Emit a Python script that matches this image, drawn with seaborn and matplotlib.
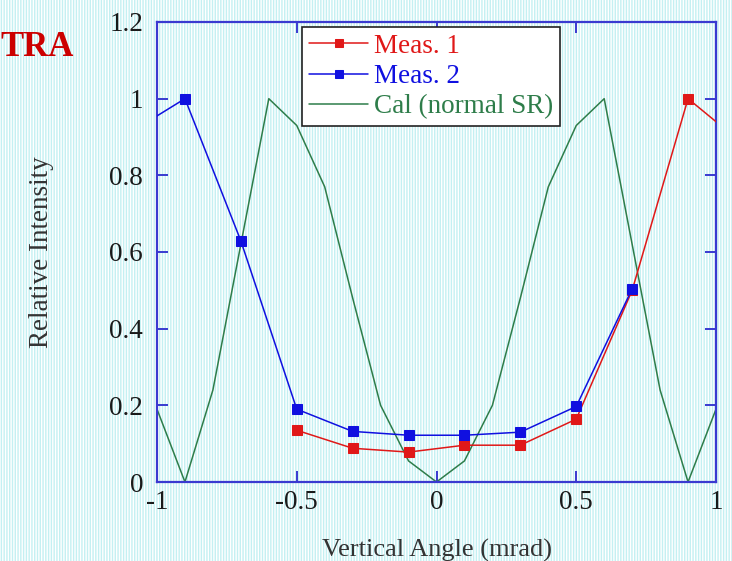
import numpy as np
import pandas as pd
import matplotlib
matplotlib.use("Agg")
import matplotlib.pyplot as plt
from matplotlib.patches import Rectangle
import seaborn as sns

# ---- data ----
meas1_x = [-0.5, -0.3, -0.1, 0.1, 0.3, 0.5, 0.7, 0.9, 1.1]
meas1_y = [0.135, 0.088, 0.078, 0.096, 0.096, 0.164, 0.50, 1.0, 0.88]
meas2_x = [-1.1, -0.9, -0.7, -0.5, -0.3, -0.1, 0.1, 0.3, 0.5, 0.7]
meas2_y = [0.91, 1.0, 0.629, 0.19, 0.132, 0.122, 0.122, 0.130, 0.197, 0.504]
cal_x = [-1.0, -0.9, -0.8, -0.7, -0.6, -0.5, -0.4, -0.3, -0.2, -0.1, 0.0,
         0.1, 0.2, 0.3, 0.4, 0.5, 0.6, 0.7, 0.8, 0.9, 1.0]
cal_y = [0.19, 0.0, 0.24, 0.62, 1.0, 0.93, 0.77, 0.48, 0.2, 0.055, 0.0,
         0.055, 0.2, 0.48, 0.77, 0.93, 1.0, 0.62, 0.24, 0.0, 0.19]
xticks = [-1, -0.5, 0, 0.5, 1]
xticklabels = ["-1", "-0.5", "0", "0.5", "1"]
yticks = [0, 0.2, 0.4, 0.6, 0.8, 1, 1.2]
yticklabels = ["0", "0.2", "0.4", "0.6", "0.8", "1", "1.2"]

RED = "#e01818"
BLUE = "#1010e0"
GREEN = "#2e7d4a"
SPINE = "#3a3ad0"

sns.set_style("ticks")
plt.rcParams["font.family"] = ["Liberation Serif", "DejaVu Serif"]
plt.rcParams["hatch.linewidth"] = 1.0

fig = plt.figure(figsize=(7.32, 5.61), dpi=100)
fig.patch.set_facecolor("white")
bg = Rectangle((0, 0), 1, 1, transform=fig.transFigure, facecolor="white",
               edgecolor="#c4f0f2", hatch="||||||", linewidth=0, zorder=-10)
fig.patches.append(bg)

ax = fig.add_axes([157/732, 1-482/561, (716-157)/732, (482-22)/561])
ax.set_facecolor("none")

df1 = pd.DataFrame({"x": meas1_x, "y": meas1_y})
df2 = pd.DataFrame({"x": meas2_x, "y": meas2_y})
dfc = pd.DataFrame({"x": cal_x, "y": cal_y})

sns.lineplot(data=df1, x="x", y="y", ax=ax, color=RED, marker="s",
             markersize=7, markeredgecolor=RED, linewidth=1.1,
             label="Meas. 1", sort=False, zorder=3)
sns.lineplot(data=df2, x="x", y="y", ax=ax, color=BLUE, marker="s",
             markersize=7, markeredgecolor=BLUE, linewidth=1.1,
             label="Meas. 2", sort=False, zorder=3)
sns.lineplot(data=dfc, x="x", y="y", ax=ax, color=GREEN, linewidth=1.1,
             label="Cal (normal SR)", sort=False, zorder=2)

ax.set_xlim(-1, 1)
ax.set_ylim(0, 1.2)
ax.set_xticks(xticks)
ax.set_xticklabels(xticklabels)
ax.set_yticks(yticks)
ax.set_yticklabels(yticklabels)
for s in ax.spines.values():
    s.set_visible(True)
    s.set_color(SPINE)
    s.set_linewidth(1.6)
ax.tick_params(direction="in", length=8, width=1.4, color=SPINE,
               top=True, right=True, labelsize=19.5, labelcolor="#1a1a1a")
ax.tick_params(axis="y", pad=10)
ax.tick_params(axis="x", pad=6)
ax.set_xlabel("Vertical Angle (mrad)", fontsize=19, color="#333333", labelpad=17)
ax.set_ylabel("Relative Intensity", fontsize=19.5, color="#333333", labelpad=40)

leg = ax.legend(loc="upper left", bbox_to_anchor=((302-157)/559, (482-27)/460),
                frameon=True, fancybox=False, fontsize=19.5, handlelength=2.2,
                handletextpad=0.2, borderpad=0.25, labelspacing=0.2,
                borderaxespad=0)
leg.get_frame().set_edgecolor("#222222")
leg.get_frame().set_linewidth(1.2)
leg.get_frame().set_facecolor("white")
leg.get_frame().set_alpha(1)
for txt, c in zip(leg.get_texts(), [RED, BLUE, GREEN]):
    txt.set_color(c)
for h in leg.legend_handles:
    h.set_markersize(6)

fig.text(0.0, 1-47/561, "TRA", color="#cc0000", fontsize=25, fontweight="bold",
         ha="left", va="center")

fig.savefig("out.png", dpi=100)
